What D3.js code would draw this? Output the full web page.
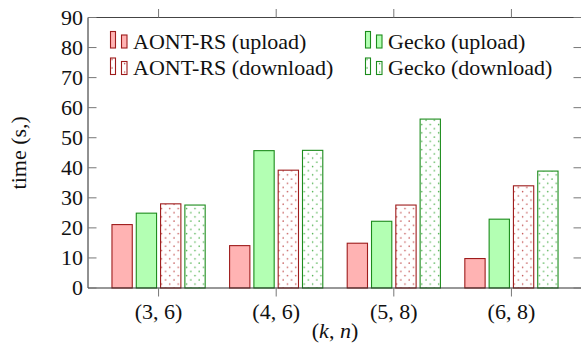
<!DOCTYPE html>
<html>
<head>
<meta charset="utf-8">
<script src="https://cdn.jsdelivr.net/npm/d3@7"></script>
<style>
  body { margin: 0; background: #fff; }
</style>
</head>
<body>
<svg id="chart" width="581" height="343"></svg>
<script>
// chart values
const categories = ['(3, 6)', '(4, 6)', '(5, 8)', '(6, 8)'];
const seriesNames = ['AONT-RS (upload)', 'Gecko (upload)', 'AONT-RS (download)', 'Gecko (download)'];
const aontUpload = [21.1, 14.1, 14.9, 9.8];
const geckoUpload = [24.9, 45.7, 22.2, 22.9];
const aontDownload = [28.0, 39.2, 27.6, 34.0];
const geckoDownload = [27.6, 45.8, 56.2, 38.9];
const yTicks = [0, 10, 20, 30, 40, 50, 60, 70, 80, 90];

const seriesValues = [aontUpload, geckoUpload, aontDownload, geckoDownload];

const FONT = '"Liberation Serif", "Times New Roman", serif';

const margin = { top: 17.5, right: -1, bottom: 55, left: 88 };
const width = 581 - margin.left - margin.right;
const height = 343 - margin.top - margin.bottom;

const svg = d3.select('#chart');

// dotted patterns for the download bars
const defs = svg.append('defs');
const patterns = [
  { id: 'dotsRed', color: '#c25050' },
  { id: 'dotsGreen', color: '#4cb04c' },
];
patterns.forEach((p) => {
  const pat = defs.append('pattern')
    .attr('id', p.id)
    .attr('patternUnits', 'userSpaceOnUse')
    .attr('width', 8.4)
    .attr('height', 8.4);
  pat.append('rect').attr('width', 8.4).attr('height', 8.4).attr('fill', '#fff');
  pat.append('circle').attr('cx', 2).attr('cy', 2).attr('r', 0.75).attr('fill', p.color);
  pat.append('circle').attr('cx', 6.2).attr('cy', 6.2).attr('r', 0.75).attr('fill', p.color);
});

const styles = [
  { fill: '#ffb3b3', stroke: '#9e1c1c' },
  { fill: '#b3ffb3', stroke: '#1c8c1c' },
  { fill: 'url(#dotsRed)', stroke: '#9e1c1c' },
  { fill: 'url(#dotsGreen)', stroke: '#1c8c1c' },
];

const g = svg.append('g').attr('transform', `translate(${margin.left},${margin.top})`);

const x = d3.scalePoint().domain(categories).range([0, width]).padding(0.6);
const xInner = d3.scaleBand().domain(d3.range(seriesNames.length))
  .range([-46.6, 46.6]).paddingInner(0.165);
const y = d3.scaleLinear().domain([0, 90]).range([height, 0]);

// bars
categories.forEach((cat, ci) => {
  seriesValues.forEach((vals, si) => {
    g.append('rect')
      .attr('x', x(cat) + xInner(si))
      .attr('y', y(vals[ci]))
      .attr('width', xInner.bandwidth())
      .attr('height', y(0) - y(vals[ci]))
      .attr('fill', styles[si].fill)
      .attr('stroke', styles[si].stroke)
      .attr('stroke-width', 1.1);
  });
});

// axis box
const tickColor = '#777';
g.append('line').attr('x1', 0).attr('x2', width).attr('y1', 0).attr('y2', 0)
  .attr('stroke', '#444').attr('stroke-width', 1);
g.append('line').attr('x1', 0).attr('x2', width).attr('y1', height).attr('y2', height)
  .attr('stroke', '#333').attr('stroke-width', 1.2);
g.append('line').attr('x1', 0).attr('x2', 0).attr('y1', 0).attr('y2', height)
  .attr('stroke', '#222').attr('stroke-width', 1);

function label(sel) {
  return sel.style('font-family', FONT).style('font-size', '22px').attr('fill', '#111');
}

// y ticks on both sides, pointing inward
yTicks.forEach((t) => {
  g.append('line').attr('x1', 0).attr('x2', 8.5).attr('y1', y(t)).attr('y2', y(t))
    .attr('stroke', tickColor).attr('stroke-width', 1);
  g.append('line').attr('x1', width - 8.5).attr('x2', width).attr('y1', y(t)).attr('y2', y(t))
    .attr('stroke', tickColor).attr('stroke-width', 1);
  label(g.append('text'))
    .attr('x', -5)
    .attr('y', y(t))
    .attr('dy', '0.34em')
    .attr('text-anchor', 'end')
    .text(t);
});

// x ticks, pointing outward on top and bottom
categories.forEach((cat) => {
  g.append('line').attr('x1', x(cat)).attr('x2', x(cat)).attr('y1', height).attr('y2', height + 8.5)
    .attr('stroke', tickColor).attr('stroke-width', 1);
  g.append('line').attr('x1', x(cat)).attr('x2', x(cat)).attr('y1', 0).attr('y2', -8.5)
    .attr('stroke', tickColor).attr('stroke-width', 1);
  label(g.append('text'))
    .attr('x', x(cat))
    .attr('y', height + 31)
    .attr('text-anchor', 'middle')
    .text(cat);
});

// axis titles
const xLabel = label(svg.append('text'))
  .attr('x', margin.left + width / 2)
  .attr('y', 338)
  .attr('text-anchor', 'middle');
xLabel.append('tspan').text('(');
xLabel.append('tspan').style('font-style', 'italic').text('k');
xLabel.append('tspan').text(', ');
xLabel.append('tspan').style('font-style', 'italic').text('n');
xLabel.append('tspan').text(')');

label(svg.append('text'))
  .attr('transform', `translate(26,${margin.top + height / 2}) rotate(-90)`)
  .attr('text-anchor', 'middle')
  .text('time (s,)');

// legend, two columns
const legendPos = [
  { x: 110, y: 31 }, { x: 365, y: 31 },
  { x: 110, y: 57.5 }, { x: 365, y: 57.5 },
];
seriesNames.forEach((name, i) => {
  const lg = svg.append('g').attr('transform', `translate(${legendPos[i].x},${legendPos[i].y})`);
  lg.append('rect').attr('x', 0.5).attr('y', 0.5).attr('width', 5).attr('height', 16.5)
    .attr('fill', styles[i].fill).attr('stroke', styles[i].stroke).attr('stroke-width', 1.1);
  lg.append('rect').attr('x', 11.5).attr('y', 4).attr('width', 5.5).attr('height', 13)
    .attr('fill', styles[i].fill).attr('stroke', styles[i].stroke).attr('stroke-width', 1.1);
  label(lg.append('text'))
    .attr('x', 23)
    .attr('y', 17.5)
    .text(name);
});
</script>
</body>
</html>
